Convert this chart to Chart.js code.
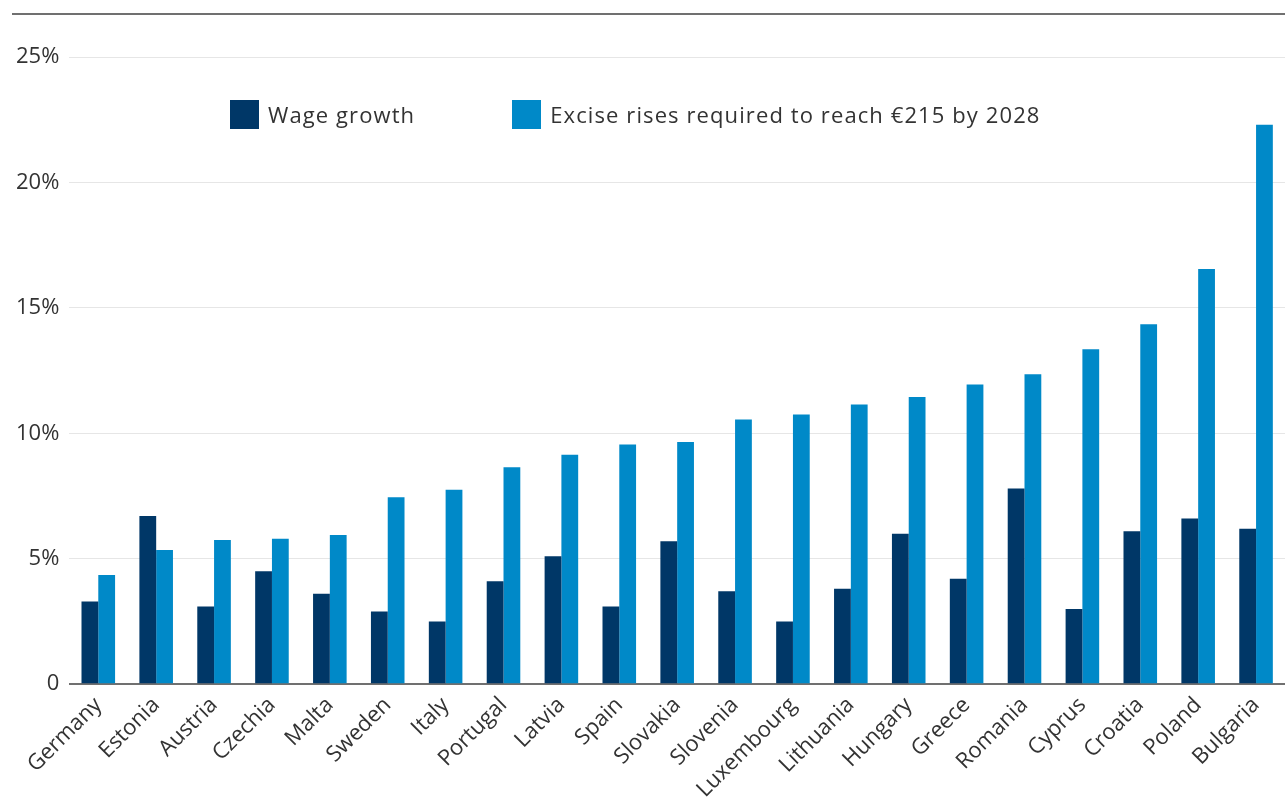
<!DOCTYPE html>
<html>
<head>
<meta charset="utf-8">
<script src="https://cdn.jsdelivr.net/npm/chart.js@4"></script>
<style>
  body { margin: 0; background: #fff; }
  #wrap { position: relative; width: 1285px; height: 805px; }
  #legend { position: absolute; top: 99px; left: 230px; font-family: 'Open Sans', sans-serif; font-size: 22px; letter-spacing: 1.1px; color: #333; display: flex; align-items: center; }
  .item { display: flex; align-items: center; margin-right: 97px; }
  .box { width: 29px; height: 29px; margin-right: 9px; }
</style>
</head>
<body>
<div id="wrap">
  <canvas id="chart" width="1285" height="805"></canvas>
  <div id="legend">
    <div class="item"><div class="box" style="background:#003767"></div>Wage growth</div>
    <div class="item"><div class="box" style="background:#0089c8"></div>Excise rises required to reach €215 by 2028</div>
  </div>
</div>
<script>
const countries = ['Germany', 'Estonia', 'Austria', 'Czechia', 'Malta', 'Sweden', 'Italy', 'Portugal', 'Latvia', 'Spain', 'Slovakia',
    'Slovenia', 'Luxembourg', 'Lithuania', 'Hungary', 'Greece', 'Romania', 'Cyprus', 'Croatia', 'Poland', 'Bulgaria'];
const wageGrowth = [3.3, 6.7, 3.1, 4.5, 3.6, 2.9, 2.5, 4.1, 5.1, 3.1, 5.7, 3.7, 2.5, 3.8, 6.0, 4.2, 7.8, 3.0, 6.1, 6.6, 6.2];
const exciseRises = [4.35, 5.35, 5.75, 5.8, 5.95, 7.45, 7.75, 8.65, 9.15, 9.55, 9.65, 10.55, 10.75, 11.15, 11.45, 11.95, 12.35, 13.35, 14.35, 16.55, 22.3];
const yTicks = [0, 5, 10, 15, 20, 25];

// thin rule across the top of the figure, plus a touch of letter spacing
const topRule = {
    id: 'topRule',
    beforeInit(chart) {
        chart.ctx.letterSpacing = '0.6px';
    },
    afterDraw(chart) {
        const c = chart.ctx;
        c.save();
        c.strokeStyle = '#707070';
        c.lineWidth = 2;
        c.beginPath();
        c.moveTo(12, 14);
        c.lineTo(chart.width, 14);
        c.stroke();
        c.restore();
    }
};

const ctx = document.getElementById('chart').getContext('2d');
new Chart(ctx, {
    type: 'bar',
    data: {
        labels: countries,
        datasets: [
            { label: 'Wage growth', data: wageGrowth, backgroundColor: '#003767' },
            { label: 'Excise rises required to reach €215 by 2028', data: exciseRises, backgroundColor: '#0089c8' }
        ]
    },
    options: {
        responsive: false,
        animation: false,
        layout: { padding: { top: 57, left: 6, right: 0, bottom: 2 } },
        datasets: { bar: { categoryPercentage: 0.58, barPercentage: 1.0 } },
        plugins: { legend: { display: false }, tooltip: { enabled: false } },
        scales: {
            x: {
                grid: { display: false },
                border: { display: false },
                ticks: {
                    color: '#333', minRotation: 45, maxRotation: 45, autoSkip: false, padding: 0,
                    font: { family: 'Open Sans', size: 22 }
                }
            },
            y: {
                min: 0, max: 25,
                afterBuildTicks: axis => { axis.ticks = yTicks.map(v => ({ value: v })); },
                border: { display: false },
                grid: {
                    drawTicks: false,
                    color: c => c.tick.value === 0 ? '#707070' : '#e6e6e6',
                    lineWidth: c => c.tick.value === 0 ? 2 : 1
                },
                ticks: {
                    color: '#333', padding: 10,
                    font: { family: 'Open Sans', size: 22 },
                    callback: v => v === 0 ? '0' : v + '%'
                }
            }
        }
    },
    plugins: [topRule]
});
</script>
</body>
</html>
